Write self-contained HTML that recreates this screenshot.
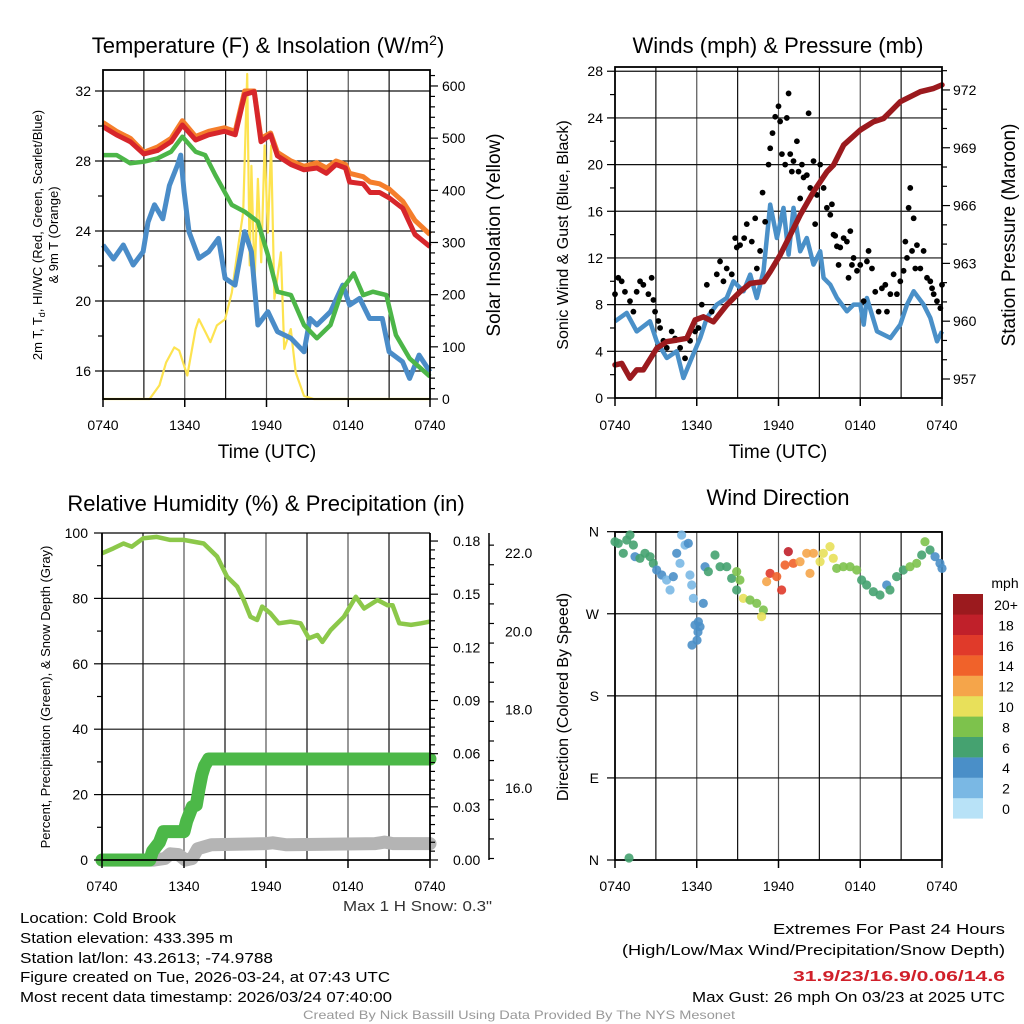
<!DOCTYPE html>
<html><head><meta charset="utf-8"><style>
html,body{margin:0;padding:0;background:#fff;}
svg{display:block;font-family:"Liberation Sans",sans-serif;}
</style></head><body>
<svg id="svg" width="1024" height="1024" viewBox="0 0 1024 1024" xmlns="http://www.w3.org/2000/svg">
<rect width="1024" height="1024" fill="#fff"/>
<!-- Titles -->
<text x="268" y="53" font-size="22" text-anchor="middle">Temperature (F) &amp; Insolation (W/m<tspan dy="-8" font-size="14">2</tspan><tspan dy="8">)</tspan></text>
<text x="778" y="53" font-size="22" text-anchor="middle">Winds (mph) &amp; Pressure (mb)</text>
<text x="266" y="511" font-size="22" text-anchor="middle">Relative Humidity (%) &amp; Precipitation (in)</text>
<text x="778" y="505" font-size="22" text-anchor="middle">Wind Direction</text>
<!-- axis titles -->
<text x="267" y="458" font-size="19" text-anchor="middle">Time (UTC)</text>
<text x="778" y="458" font-size="19" text-anchor="middle">Time (UTC)</text>
<text transform="translate(42,235) rotate(-90)" font-size="13" text-anchor="middle">2m T, T<tspan font-size="9" dy="3">d</tspan><tspan dy="-3">, HI/WC (Red, Green, Scarlet/Blue)</tspan></text>
<text transform="translate(58,235) rotate(-90)" font-size="13" text-anchor="middle">&amp; 9m T (Orange)</text>
<text transform="translate(500,235) rotate(-90)" font-size="19" text-anchor="middle">Solar Insolation (Yellow)</text>
<text transform="translate(568,235) rotate(-90)" font-size="16" text-anchor="middle">Sonic Wind &amp; Gust (Blue, Black)</text>
<text transform="translate(1015,235) rotate(-90)" font-size="19" text-anchor="middle">Station Pressure (Maroon)</text>
<text transform="translate(50,697) rotate(-90)" font-size="13" text-anchor="middle">Percent, Precipitation (Green), &amp; Snow Depth (Gray)</text>
<text transform="translate(568,697) rotate(-90)" font-size="16" text-anchor="middle">Direction (Colored By Speed)</text>
<g id="layer"></g>
<!-- bottom text -->
<text x="343" y="911" font-size="15" fill="#333" textLength="149" lengthAdjust="spacingAndGlyphs">Max 1 H Snow: 0.3"</text>
<g font-size="15">
<text x="20" y="923" textLength="156" lengthAdjust="spacingAndGlyphs">Location: Cold Brook</text>
<text x="20" y="943" textLength="213" lengthAdjust="spacingAndGlyphs">Station elevation: 433.395 m</text>
<text x="20" y="963" textLength="253" lengthAdjust="spacingAndGlyphs">Station lat/lon: 43.2613; -74.9788</text>
<text x="20" y="982" textLength="370" lengthAdjust="spacingAndGlyphs">Figure created on Tue, 2026-03-24, at 07:43 UTC</text>
<text x="20" y="1002" textLength="372" lengthAdjust="spacingAndGlyphs">Most recent data timestamp: 2026/03/24 07:40:00</text>
</g>
<g font-size="15">
<text x="773" y="934" textLength="232" lengthAdjust="spacingAndGlyphs">Extremes For Past 24 Hours</text>
<text x="622" y="955" textLength="383" lengthAdjust="spacingAndGlyphs">(High/Low/Max Wind/Precipitation/Snow Depth)</text>
<text x="793" y="981" fill="#d0202a" font-weight="bold" textLength="212" lengthAdjust="spacingAndGlyphs">31.9/23/16.9/0.06/14.6</text>
<text x="692" y="1002" textLength="313" lengthAdjust="spacingAndGlyphs">Max Gust: 26 mph On 03/23 at 2025 UTC</text>
</g>
<text x="303" y="1019" font-size="12" fill="#999" textLength="432" lengthAdjust="spacingAndGlyphs">Created By Nick Bassill Using Data Provided By The NYS Mesonet</text>
</svg>
<script>
// ---- Panel 1 data ----
const tempTimes=[0,1.0,2.0,3.0,4.0,5.0,5.83,6.8,7.76,8.9,9.7,10.4,11.1,11.6,12.3,12.8,13.8,14.75,15.7,16.4,17.1,17.8,18.1,19.1,19.6,20.3,21.0,22.0,22.9,24];
const temp2m=[29.96,29.49,29.1,28.4,28.6,29.1,30.06,29.2,29.5,29.7,29.5,31.8,31.96,29.1,29.5,28.3,27.8,27.5,27.6,27.3,27.8,27.6,26.8,26.7,26.2,26.2,25.9,25.3,23.8,23.1];
const temp9m=[30.2,29.7,29.3,28.5,28.8,29.3,30.3,29.4,29.7,29.9,29.7,32.0,32.0,29.3,29.6,28.5,28.0,27.7,27.9,27.6,28.0,27.8,27.3,27.1,26.8,26.7,26.4,25.7,24.6,23.8];
const dewTimes=[0,1.0,2.0,3.0,4.0,5.0,5.83,6.8,7.5,8.24,9.45,10.4,11.37,12.1,12.8,13.8,14.75,15.7,16.7,17.6,18.4,19.1,19.8,20.8,21.5,22.5,24];
const dewpoint=[28.34,28.34,27.87,27.96,28.15,28.53,29.39,28.53,28.34,27.2,25.49,25.1,24.53,22.63,20.53,20.34,18.63,17.87,18.63,20.72,21.58,20.34,20.53,20.34,18.06,16.72,15.68];
const wcTimes=[0,0.77,1.49,2.22,2.94,3.3,3.78,4.39,4.87,5.47,5.7,5.95,6.31,7.04,7.76,8.48,8.96,9.69,10.4,10.89,11.37,12.1,12.8,13.8,14.75,15.2,15.7,16.7,17.6,18.1,18.84,19.57,20.5,21.0,21.98,22.5,23.2,24];
const windChill=[23.2,22.4,23.2,22.06,22.82,24.5,25.5,24.7,26.6,27.77,28.34,26.24,23.96,22.44,22.82,23.58,21.3,20.91,23.96,22.82,18.63,19.39,18.25,17.87,17.1,19.0,18.63,19.39,20.91,19.77,20.15,19.0,19.0,17.1,16.53,15.58,16.91,15.96];
const insTimes=[0,3.42,4.14,4.63,5.23,5.59,6.19,6.8,7.04,7.52,7.88,8.36,8.96,9.45,9.93,10.29,10.58,10.77,10.89,11.13,11.37,11.61,11.86,12.1,12.34,12.58,13.06,13.3,13.78,14.14,14.75,15.47,24];
const insolation=[0,0,26,70,99,93,45,134,153,128,109,141,153,204,294,358,623,256,447,224,422,262,486,319,486,192,281,96,134,51,6,0,0];
const tempTicks=[16,20,24,28,32];
const insTicks=[0,100,200,300,400,500,600];
const timeLabels=["0740","1340","1940","0140","0740"];
// ---- Panel 2 data ----
const windTimes=[0,0.86,1.59,2.57,3.06,3.8,4.53,5.02,5.63,6.25,6.74,7.47,8.2,8.69,9.43,9.92,10.41,10.9,11.39,11.88,12.37,12.74,13.1,13.59,14.08,14.57,15.06,15.31,15.8,16.29,17.02,17.51,18.0,18.25,18.49,19.23,20.21,20.94,21.43,21.92,22.65,23.14,23.63,24];
const windSpeed=[6.57,7.29,5.71,6.57,4.86,3.43,4.0,1.71,3.43,5.14,6.86,8.0,8.57,10.0,9.14,10.57,8.57,10.86,16.57,13.71,16.29,12.29,16.29,12.57,13.71,11.43,12.57,10.29,9.71,8.57,7.43,8.0,8.0,6.29,8.57,5.71,5.14,6.29,8.0,9.14,8.0,6.86,4.86,5.71];
const gustTimes=[0,0.24,0.49,0.73,1.10,1.35,1.59,1.84,2.08,2.45,2.69,2.82,2.94,3.18,3.31,3.55,3.80,4.16,4.41,4.78,5.14,5.51,5.88,6.12,6.37,6.74,7.10,7.47,7.71,7.96,8.20,8.57,8.82,8.94,9.18,9.48,9.67,10.04,10.29,10.41,10.65,10.83,11.02,11.27,11.39,11.56,11.76,12.0,12.12,12.25,12.49,12.61,12.74,12.86,12.98,13.10,13.35,13.47,13.59,13.72,13.84,14.08,14.21,14.33,14.57,14.69,14.82,15.06,15.31,15.55,15.80,15.92,16.04,16.16,16.29,16.41,16.53,16.78,17.02,17.14,17.27,17.39,17.51,17.76,18.0,18.25,18.49,18.61,18.86,19.10,19.35,19.59,19.84,19.96,20.21,20.45,20.69,20.94,21.18,21.31,21.43,21.55,21.67,21.80,21.92,22.04,22.16,22.41,22.65,22.90,23.14,23.27,23.39,23.63,23.88,24.0];
const gustSpeed=[8.9,10.3,10.0,9.1,8.3,7.4,9.1,10.0,9.7,8.9,10.3,8.4,7.4,6.6,6.0,4.9,4.3,5.7,5.1,4.3,3.4,4.9,5.7,6.0,8.0,9.7,7.4,10.6,11.7,10.0,11.1,10.6,13.7,12.9,13.1,13.7,14.9,13.4,15.4,11.1,12.6,17.6,15.1,20.0,21.4,22.7,24.1,25.0,23.7,20.9,20.0,24.0,26.1,20.9,19.4,20.3,22.0,19.4,17.1,20.0,18.9,19.1,24.4,18.0,20.3,14.9,17.4,20.0,18.0,16.3,15.7,16.6,14.0,13.9,13.0,11.4,12.9,13.7,13.4,10.3,14.3,11.4,12.0,10.9,11.4,8.3,11.7,12.6,11.1,9.1,7.4,9.4,9.7,7.4,8.9,10.6,8.9,10.0,10.9,13.4,12.0,16.3,18.0,12.6,15.4,11.1,13.1,11.1,12.6,10.3,10.0,9.4,8.9,8.3,7.7,9.7];
const presTimes=[0,0.49,1.1,1.59,2.08,3.06,3.8,4.53,5.27,5.88,6.49,7.22,8.2,9.18,9.92,10.9,11.39,12.12,12.86,13.59,14.57,15.55,16.04,16.78,18.0,18.98,19.71,20.21,20.94,21.67,22.41,23.39,24.0];
const pressure=[957.73,957.81,957.04,957.47,957.47,958.59,958.94,959.02,959.11,960.06,960.23,959.97,960.84,961.53,961.96,962.05,962.57,963.43,964.47,965.51,966.72,967.75,968.1,969.14,969.92,970.35,970.52,970.87,971.39,971.65,971.91,972.08,972.26];
const windTicks=[0,4,8,12,16,20,24,28];
const presTicks=[957,960,963,966,969,972];
// ---- Panel 3 data ----
const rhTimes=[0,0.83,1.57,2.18,3.03,4.01,4.99,5.97,7.44,8.42,9.15,9.89,10.37,10.86,11.35,11.72,12.33,12.94,13.8,14.53,15.14,15.76,16.13,16.73,17.71,18.57,19.18,20.16,20.89,21.26,21.75,22.61,23.34,24];
const humidity=[93.8,95.3,96.8,95.8,98.4,98.8,97.9,97.9,96.8,92.8,86.6,83.6,79.5,74.4,73.4,77.5,75.4,72.4,72.9,72.4,67.8,68.8,66.7,70.3,74.4,80.5,76.9,79.5,77.9,77.9,72.4,71.9,72.4,72.9];
const precipTimes=[0,3.5,3.7,4.2,4.5,6.0,6.2,6.6,6.9,7.1,7.3,7.5,7.8,24];
const precip=[0,0,0.005,0.01,0.016,0.016,0.022,0.030,0.031,0.04,0.048,0.053,0.057,0.057];
const snowTimes=[0,3.8,4.6,5.0,5.6,6.1,6.6,7.0,8.0,12.0,12.5,13.5,20.0,20.7,21.3,24];
const snowDepth=[14.16,14.16,14.2,14.32,14.3,14.16,14.2,14.45,14.55,14.58,14.6,14.55,14.58,14.62,14.58,14.58];
const rhTicks=[0,20,40,60,80,100];
const precipTicks=[0,0.03,0.06,0.09,0.12,0.15,0.18];
const snowTicks=[16,18,20,22];
// ---- Panel 4 data ----
const dirTimes=[0,0.24,0.61,0.86,1.10,1.35,1.47,1.83,2.20,2.57,2.81,3.06,3.43,3.79,4.04,4.28,4.53,4.77,4.89,5.14,5.38,5.50,5.63,5.75,6.12,6.24,6.48,6.61,6.85,7.34,7.71,8.20,8.56,8.93,9.17,8.93,9.42,9.91,10.40,10.89,10.76,11.13,11.38,11.87,12.23,12.48,12.72,13.09,13.58,14.07,14.31,14.56,15.05,15.29,15.78,16.02,16.27,16.76,17.25,17.74,18.10,18.47,18.96,19.45,19.94,20.18,20.67,21.16,21.65,22.14,22.51,22.75,23.12,23.49,23.85,24.0,5.87,6.02,5.65,6.09,1.03];
const direction=[349.0,347.2,336.3,350.9,356.4,345.4,332.6,330.8,336.3,332.6,325.3,318.0,312.5,307.0,296.1,310.7,336.3,325.3,356.4,345.4,347.2,312.5,301.5,286.9,261.3,255.8,281.4,321.6,316.2,334.4,321.6,321.6,308.8,316.2,307.0,296.1,286.9,285.1,281.4,274.1,266.8,305.2,314.3,310.7,296.1,323.5,338.1,325.3,327.1,336.3,314.3,336.3,327.1,336.3,343.6,330.8,319.8,321.6,321.6,318.0,307.0,301.5,294.2,290.6,301.5,296.1,310.7,318.0,321.6,325.3,334.4,349.0,339.9,332.6,325.3,319.8,257.7,241,235.7,250,2.2];
const dirSpeed=[7,7,7,7,7,7,5,7,7,7,7,5,5,3,3,5,5,3,3,3,5,3,3,3,5,5,5,5,7,7,7,7,7,9,9,7,11,9,9,9,11,13,17,15,17,15,19,15,13,13,13,13,11,11,11,11,9,9,9,9,7,7,7,7,5,7,7,7,9,9,7,9,7,5,5,5,5,5,5,5,7];
const dirLabels=["N","W","S","E","N"];
const speedLabels=["0","2","4","6","8","10","12","14","16","18","20+"];
const speedColors=["#b8e2f7","#7ab8e4","#4a8fc8","#45a270","#7dc24c","#e8e05a","#f5a54a","#f0622a","#e03a2a","#c0202a","#9b1a1e"];

const NS="http://www.w3.org/2000/svg";
const layer=document.getElementById('layer');
function mk(tag,attrs,parent){const e=document.createElementNS(NS,tag);for(const k in attrs)e.setAttribute(k,attrs[k]);(parent||layer).appendChild(e);return e;}
function txt(x,y,s,anchor,size,parent){const e=mk('text',{x:x,y:y,'text-anchor':anchor,'font-size':size},parent);e.textContent=s;return e;}
function pathD(ts,vs,X,Y){return ts.map((t,i)=>(i?'L':'M')+X(t).toFixed(1)+','+Y(vs[i]).toFixed(1)).join('');}

function frame(x0,x1,yT,yB,name){
  const g=mk('g',{});
  
  
  return g;
}
function timeGrid(g,x0,x1,yT,yB,hLines,X){
  for(let h=3;h<24;h+=3){const l=mk('line',{x1:X(h),x2:X(h),y1:yT,y2:yB,stroke:(h%6==0)?'#555':'#111','stroke-width':1.2},g);
    }
  hLines.forEach(y=>{const l=mk('line',{x1:x0,x2:x1,y1:y,y2:y,stroke:'#111','stroke-width':1.2},g);
    });
}
function timeAxis(g,X,yB,labelY){
  for(let i=0;i<5;i++){const x=X(i*6);
    mk('line',{x1:x,x2:x,y1:yB,y2:yB+8,stroke:'#000','stroke-width':1.5},g);
    const t=txt(x,labelY,timeLabels[i],'middle',14,g);
    }
}

// ===== Panel 1 =====
(function(){
  const x0=103,x1=430,yT=70,yB=399;
  const X=t=>x0+t*(x1-x0)/24, Y=v=>91+(32-v)*17.5, YI=w=>399-w*0.5217;
  const g=frame(x0,x1,yT,yB,'temperature-panel');
  timeGrid(g,x0,x1,yT,yB,tempTicks.map(Y),X);
  const ins=mk('path',{d:pathD(insTimes,insolation,X,YI),fill:'none',stroke:'#fde350','stroke-width':2.2,'stroke-linejoin':'round'},g);
  
  const wc=mk('path',{d:pathD(wcTimes,windChill,X,Y),fill:'none',stroke:'#4a8cc8','stroke-width':5,'stroke-linejoin':'round'},g);
  
  const dp=mk('path',{d:pathD(dewTimes,dewpoint,X,Y),fill:'none',stroke:'#4cb648','stroke-width':4.5,'stroke-linejoin':'round'},g);
  
  const o=mk('path',{d:pathD(tempTimes,temp9m,X,Y),fill:'none',stroke:'#f57e2b','stroke-width':5,'stroke-linejoin':'round'},g);
  
  const r=mk('path',{d:pathD(tempTimes,temp2m,X,Y),fill:'none',stroke:'#d7262b','stroke-width':5,'stroke-linejoin':'round'},g);
  
  mk('rect',{x:x0,y:yT,width:x1-x0,height:yB-yT,fill:'none',stroke:'#000','stroke-width':1.8},g);
  for(let v=15;v<=33;v++){const y=Y(v);if(y<yT||y>yB)continue;const maj=tempTicks.includes(v);if(!maj&&v%2)continue;
    mk('line',{x1:x0-(maj?8:5),x2:x0,y1:y,y2:y,stroke:'#000','stroke-width':1.2},g);}
  tempTicks.forEach(v=>{const t=txt(x0-12,Y(v)+5,String(v),'end',14,g);});
  for(let w=0;w<=620;w+=20){const y=YI(w);if(y<yT)continue;const maj=w%100==0;
    mk('line',{x1:x1,x2:x1+(maj?8:5),y1:y,y2:y,stroke:'#000','stroke-width':1.2},g);}
  insTicks.forEach(w=>{const t=txt(x1+12,YI(w)+5,String(w),'start',14,g);});
  timeAxis(g,X,yB,430);
})();

// ===== Panel 2 =====
(function(){
  const x0=615,x1=942,yT=67,yB=398;
  const X=t=>x0+t*(x1-x0)/24, Y=v=>398-v*11.67, YP=p=>379-(p-957)*19.27;
  const g=frame(x0,x1,yT,yB,'winds-panel');
  timeGrid(g,x0,x1,yT,yB,windTicks.slice(1).map(Y),X);
  const w=mk('path',{d:pathD(windTimes,windSpeed,X,Y),fill:'none',stroke:'#4a90c8','stroke-width':4.5,'stroke-linejoin':'round'},g);
  
  gustTimes.forEach((t,i)=>{const c=mk('circle',{cx:X(t),cy:Y(gustSpeed[i]),r:2.9,fill:'#000'},g);
    });
  const p=mk('path',{d:pathD(presTimes,pressure,X,YP),fill:'none',stroke:'#9b1a1e','stroke-width':5.5,'stroke-linejoin':'round','stroke-linecap':'round'},g);
  
  mk('rect',{x:x0,y:yT,width:x1-x0,height:yB-yT,fill:'none',stroke:'#000','stroke-width':1.8},g);
  for(let v=0;v<=28;v+=2){const maj=v%4==0;mk('line',{x1:x0-(maj?8:5),x2:x0,y1:Y(v),y2:Y(v),stroke:'#000','stroke-width':1.2},g);}
  windTicks.forEach(v=>{const t=txt(x0-12,Y(v)+5,String(v),'end',14,g);});
  for(let q=956;q<=973;q++){const y=YP(q);if(y<yT||y>yB)continue;const maj=presTicks.includes(q);
    mk('line',{x1:x1,x2:x1+(maj?8:5),y1:y,y2:y,stroke:'#000','stroke-width':1.2},g);}
  presTicks.forEach(q=>{const t=txt(x1+11,YP(q)+5,String(q),'start',14,g);});
  timeAxis(g,X,yB,430);
})();

// ===== Panel 3 =====
(function(){
  const x0=102,x1=430,yT=533,yB=860;
  const X=t=>x0+t*(x1-x0)/24, Y=v=>860-v*3.27, YP=v=>860-v*1772, YS=v=>788-(v-16)*39.17;
  const g=frame(x0,x1,yT,yB,'humidity-panel');
  timeGrid(g,x0,x1,yT,yB,rhTicks.slice(1,5).map(Y),X);
  const s=mk('path',{d:pathD(snowTimes,snowDepth,X,YS),fill:'none',stroke:'#b4b4b4','stroke-width':13,'stroke-linejoin':'round','stroke-linecap':'round'},g);
  
  const pr=mk('path',{d:pathD(precipTimes,precip,X,YP),fill:'none',stroke:'#4cb848','stroke-width':13,'stroke-linejoin':'round','stroke-linecap':'round'},g);
  
  const rh=mk('path',{d:pathD(rhTimes,humidity,X,Y),fill:'none',stroke:'#8cc84a','stroke-width':4.5,'stroke-linejoin':'round'},g);
  
  mk('line',{x1:x0,x2:x0,y1:yT,y2:yB,stroke:'#000','stroke-width':1.8},g);
  mk('line',{x1:x1,x2:x1,y1:yT,y2:yB,stroke:'#000','stroke-width':1.8},g);
  mk('line',{x1:x0,x2:x1,y1:yB,y2:yB,stroke:'#000','stroke-width':1.8},g);
  mk('line',{x1:x0,x2:x1,y1:yT,y2:yT,stroke:'#000','stroke-width':1.2},g);
  for(let v=0;v<=100;v+=10){mk('line',{x1:x0-(v%20?5:8),x2:x0,y1:Y(v),y2:Y(v),stroke:'#000','stroke-width':1.2},g);}
  rhTicks.forEach(v=>{const t=txt(x0-14,Y(v)+5,String(v),'end',14,g);});
  for(let k=0;k<=36;k++){const v=k*0.005;const y=YP(v);if(y<yT)continue;const maj=k%6==0;
    mk('line',{x1:x1,x2:x1+(maj?8:5),y1:y,y2:y,stroke:'#000','stroke-width':1.2},g);}
  precipTicks.forEach(v=>{const t=txt(x1+23,YP(v)+5,v.toFixed(2),'start',14,g);});
  mk('line',{x1:489,x2:489,y1:533,y2:860,stroke:'#000','stroke-width':1.5},g);
  for(let k=0;k<=16;k++){const v=14.2+k*0.5;const y=YS(v);if(y<yT||y>yB)continue;const maj=Math.abs(v%2)<0.01;
    mk('line',{x1:489,x2:489+(maj?8:5),y1:y,y2:y,stroke:'#000','stroke-width':1.2},g);}
  snowTicks.forEach(v=>{const t=txt(505,YS(v)+5,v.toFixed(1),'start',14,g);});
  timeAxis(g,X,yB,891);
})();

// ===== Panel 4 =====
(function(){
  const x0=615,x1=942,yT=532,yB=860;
  const X=t=>x0+t*(x1-x0)/24, Y=d=>860-d*0.912;
  const g=frame(x0,x1,yT,yB,'wind-direction-panel');
  timeGrid(g,x0,x1,yT,yB,[360,270,180,90].map(Y),X);
  mk('rect',{x:x0,y:yT,width:x1-x0,height:yB-yT,fill:'none',stroke:'#000','stroke-width':1.8},g);
  dirTimes.forEach((t,i)=>{const sp=dirSpeed[i];const bin=Math.min(10,Math.floor(sp/2));
    const c=mk('circle',{cx:X(t),cy:Y(direction[i]),r:4.6,fill:speedColors[bin],'fill-opacity':0.9},g);
    });
  dirLabels.forEach((s,i)=>{const y=Y(360-i*90);mk('line',{x1:x0-8,x2:x0,y1:y,y2:y,stroke:'#000','stroke-width':1.2},g);
    const t=txt(x0-16,y+5,s,'end',14,g);});
  timeAxis(g,X,yB,891);
  const cb=mk('g',{},g);
  
  const t0=txt(1005,588,'mph','middle',14,cb);
  for(let i=0;i<11;i++){const y=594+(10-i)*20.4;
    const r=mk('rect',{x:953,y:y,width:30,height:20.6,fill:speedColors[i]},cb);
    
    const l=txt(1006,y+16,speedLabels[i],'middle',14,cb);}
})();
</script>
</body></html>
